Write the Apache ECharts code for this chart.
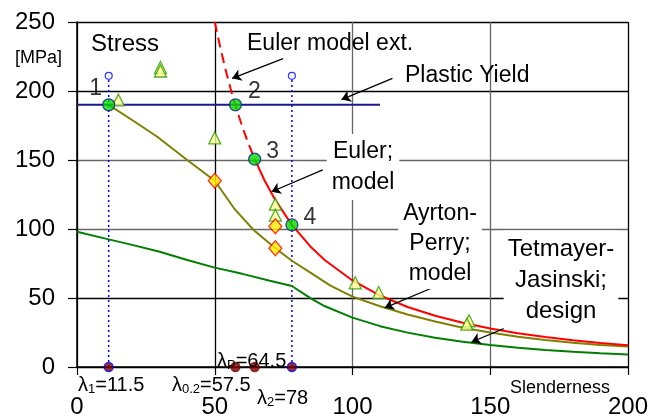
<!DOCTYPE html>
<html>
<head>
<meta charset="utf-8">
<script src="https://cdn.jsdelivr.net/npm/echarts@6/dist/echarts.min.js"></script>
<style>
  html, body { margin: 0; padding: 0; background: #fff; }
  #chart { width: 662px; height: 419px; }
</style>
</head>
<body>
<div id="chart"></div>
<script>
// values (slenderness, stress in MPa)
const xTicks = [0, 50, 100, 150, 200];
const yTicks = [0, 50, 100, 150, 200, 250];

const eulerExt = [[50, 250], [52, 231.7], [54, 214.9], [56, 199.8], [57.5, 189.5], [60, 174.1], [62, 163], [64.5, 150.6]];
const euler = [[64.5, 150.6], [68, 135.5], [72, 120.9], [78, 103], [85, 86.7], [90, 77.4], [100, 62.7], [110, 51.8],
  [120, 43.5], [130, 37.1], [140, 32], [150, 27.9], [160, 24.5], [170, 21.7], [180, 19.3], [190, 17.4], [200, 15.7]];
const ayrton = [[11.5, 190], [20, 179], [29, 167], [40, 150], [50, 135], [57, 115], [64, 99.5], [72, 86], [78, 77],
  [85, 68], [92, 59], [100, 51], [110, 44], [120, 38], [130, 33], [140, 28.5], [150, 25], [160, 22], [170, 19.5],
  [180, 17.5], [190, 16], [200, 14.8]];
const tetmayer = [[0, 98], [11.5, 92.5], [20, 88.5], [30, 83.5], [40, 77.5], [50, 72], [60, 67.5], [70, 62.5], [78, 58.7],
  [85, 49.5], [90, 44], [100, 35.8], [110, 29.6], [120, 24.9], [130, 21.2], [140, 18.3], [150, 15.9], [160, 14],
  [170, 12.4], [180, 11], [190, 9.9], [200, 9]];
const plasticYield = [[0, 190], [110, 190]];

const keyPoints = [[11.5, 190], [57.5, 190], [64.5, 150.6], [78, 103]];
const keyNames = ["1", "2", "3", "4"];
const testPoints = [[15, 193.5], [30.3, 217], [30.3, 214.5], [50, 166], [72, 118], [72, 110], [101, 61], [109.5, 54],
  [142.3, 33.5], [141.5, 31]];
const apPoints = [[50, 135], [72, 102], [72, 86]];
const lambdaX = [11.5, 57.5, 64.5, 78];
const guideX = [11.5, 78];
const guideTop = 211;

const arrows = [
  [[74.8, 223.5], [56.3, 209.2]],
  [[114.5, 209.2], [96, 193.8]],
  [[89.2, 142.8], [70.6, 127]],
  [[130.5, 58.7], [111.7, 42.9]],
  [[161.5, 33.2], [143.2, 18.1]]
];

const FONT = "'Liberation Sans', Arial, sans-serif";
const chart = echarts.init(document.getElementById("chart"));

const labelOffsets = [[-13, -16], [19, -13], [18, -8], [18, -7]];

function txt(text, x, y, size, extra) {
  return Object.assign({
    type: "text", x: x, y: y, z: 100,
    style: Object.assign({
      text: text, font: size + "px " + FONT, fill: "#000",
      textAlign: "left", textVerticalAlign: "middle"
    }, extra || {})
  });
}
function lam(sub, rest, x, y) {
  return {
    type: "text", x: x, y: y, z: 100,
    style: {
      text: "{a|λ}{s|" + sub + "}{a|" + rest + "}",
      textVerticalAlign: "middle",
      rich: {
        a: { font: "20px " + FONT, fill: "#000" },
        s: { font: "13px " + FONT, fill: "#000", padding: [8, 0, 0, 0] }
      }
    }
  };
}

const series = [
  {
    type: "line", data: tetmayer, symbol: "none", z: 3,
    lineStyle: { color: "#008000", width: 2 }
  },
  {
    type: "line", data: ayrton, symbol: "none", z: 3,
    lineStyle: { color: "#808000", width: 2 }
  },
  {
    type: "line", data: plasticYield, symbol: "none", z: 3,
    lineStyle: { color: "#1a1a8c", width: 2 }
  },
  {
    type: "line", data: eulerExt, symbol: "none", z: 4,
    lineStyle: { color: "#ff0000", width: 2, type: [10, 6] }
  },
  {
    type: "line", data: euler, symbol: "none", z: 4,
    lineStyle: { color: "#ff0000", width: 2 }
  }
];

guideX.forEach(function (gx) {
  series.push({
    type: "line", data: [[gx, 0], [gx, guideTop]], symbol: "none", z: 2,
    lineStyle: { color: "#0000ff", width: 1.5, type: [2, 3] }
  });
});

series.push({
  type: "scatter", z: 5,
  data: guideX.map(function (gx) { return [gx, guideTop]; }),
  symbol: "circle", symbolSize: 7,
  itemStyle: { color: "#fff", borderColor: "#0000ff", borderWidth: 1.2 }
});

series.push({
  type: "scatter", z: 6,
  data: testPoints, symbol: "triangle", symbolSize: 12,
  itemStyle: { color: "#ffff99", borderColor: "#2e9a00", borderWidth: 1.3 }
});

series.push({
  type: "scatter", z: 6,
  data: apPoints, symbol: "diamond", symbolSize: [13, 15],
  itemStyle: { color: "#ffee00", borderColor: "#ff0000", borderWidth: 1.3 }
});

series.push({
  type: "scatter", z: 7,
  data: keyPoints.map(function (p, i) {
    return {
      value: p,
      label: {
        show: true, formatter: keyNames[i], position: "inside",
        offset: labelOffsets[i], fontSize: 23, fontFamily: FONT, color: "#000"
      }
    };
  }),
  symbol: "circle", symbolSize: 12,
  itemStyle: { color: "#00dd00", borderColor: "#1a1a8c", borderWidth: 1.3 }
});

series.push({
  type: "scatter", z: 7,
  data: lambdaX.map(function (lx) {
    const blue = guideX.indexOf(lx) >= 0;
    return { value: [lx, 0], itemStyle: { borderColor: blue ? "#0000ff" : "#800000" } };
  }),
  symbol: "circle", symbolSize: 9,
  itemStyle: { color: "#800000", borderWidth: 1.3 }
});

series.push({
  type: "line", data: [], z: 8,
  markLine: {
    silent: true, symbol: ["none", "arrow"], symbolSize: 9,
    label: { show: false },
    lineStyle: { color: "#000", width: 1.3, type: "solid" },
    data: arrows.map(function (a) { return [{ coord: a[0] }, { coord: a[1] }]; })
  }
});

const option = {
  animation: false,
  backgroundColor: "#fff",
  grid: { left: 77, right: 34, top: 22, bottom: 48 },
  xAxis: {
    type: "value", min: xTicks[0], max: xTicks[xTicks.length - 1], interval: 50,
    axisLine: { lineStyle: { color: "#000", width: 1.5 } },
    axisTick: { show: true, length: 8, lineStyle: { color: "#000", width: 1.2 } },
    axisLabel: { color: "#000", fontSize: 24, fontFamily: FONT, margin: 28 },
    splitLine: { show: true, lineStyle: { color: ["#000", "#000", "#666", "#666", "#000"], width: 1.3 } }
  },
  yAxis: {
    type: "value", min: yTicks[0], max: yTicks[yTicks.length - 1], interval: 50,
    axisLine: { lineStyle: { color: "#000", width: 1.5 } },
    axisTick: { show: true, length: 9, lineStyle: { color: "#000", width: 1.2 } },
    axisLabel: { color: "#000", fontSize: 24, fontFamily: FONT, margin: 22 },
    splitLine: { show: true, lineStyle: { color: ["#000", "#000", "#666", "#666", "#000", "#000"], width: 1.3 } }
  },
  graphic: [
    txt("Stress", 91, 44, 24),
    txt("[MPa]", 15, 58, 18),
    txt("Euler model ext.", 247, 44, 23),
    txt("Plastic Yield", 405, 76, 23),
    txt("Euler;\nmodel", 363, 167, 23, {
      textAlign: "center", lineHeight: 31, backgroundColor: "#fff", padding: [2, 5, 2, 5]
    }),
    txt("Ayrton-\nPerry;\nmodel", 440, 244, 23, {
      textAlign: "center", lineHeight: 30, backgroundColor: "#fff", padding: [0, 5, 0, 5]
    }),
    txt("Tetmayer-\nJasinski;\ndesign", 561, 280, 24, {
      textAlign: "center", lineHeight: 31, backgroundColor: "#fff", padding: [4, 4, 2, 4]
    }),
    txt("Slenderness", 510, 388, 18),
    lam("1", "=11.5", 78, 385),
    lam("0.2", "=57.5", 172, 385),
    lam("P", "=64.5", 217, 361),
    lam("2", "=78", 257, 398)
  ],
  series: series
};

chart.setOption(option);
</script>
</body>
</html>
